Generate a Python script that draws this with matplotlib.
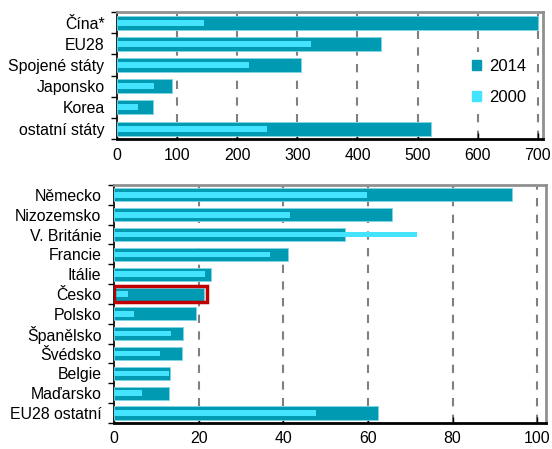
import matplotlib.pyplot as plt
import matplotlib.patches as mpatches
import numpy as np

plt.rcParams['font.family'] = ['Liberation Sans', 'DejaVu Sans']

# World regions (top panel)
regions = ["Čína*", "EU28", "Spojené státy", "Japonsko", "Korea", "ostatní státy"]
regions_2014 = [700, 439, 306, 91, 60, 523]
regions_2000 = [145, 323, 219, 62, 35, 249]

# EU countries (bottom panel)
countries = ["Německo", "Nizozemsko", "V. Británie", "Francie", "Itálie", "Česko",
             "Polsko", "Španělsko", "Švédsko", "Belgie", "Maďarsko", "EU28 ostatní"]
countries_2014 = [94.1, 65.6, 54.5, 41.0, 22.9, 21.2, 19.3, 16.2, 16.1, 13.2, 12.9, 62.5]
countries_2000 = [59.7, 41.7, 71.5, 36.8, 21.5, 3.2, 4.7, 13.4, 10.8, 13.0, 6.6, 47.8]

top_ticks = [0, 100, 200, 300, 400, 500, 600, 700]
bottom_ticks = [0, 20, 40, 60, 80, 100]

c2014 = '#009BB3'
c2000 = '#44E3FF'
font_size = 11.4

fig = plt.figure(figsize=(5.52, 4.49), dpi=100)
ax_top = fig.add_axes([0.212, 0.690, 0.772, 0.283])
ax_bot = fig.add_axes([0.2065, 0.058, 0.782, 0.530])


def style_axis(axis, labels, v2014, v2000, ticks, xmax):
    y = np.arange(len(labels))
    axis.barh(y, v2014, height=0.66, color=c2014, edgecolor='#7fd6e6', linewidth=0.6, zorder=3)
    axis.barh(y, v2000, height=0.28, color=c2000, edgecolor='none', zorder=4)
    axis.set_ylim(len(labels) - 0.5, -0.5)
    axis.set_xlim(0, xmax)
    axis.set_yticks(y)
    axis.set_yticklabels(labels, fontsize=font_size)
    axis.set_yticks(np.arange(len(labels) + 1) - 0.5, minor=True)
    axis.tick_params(axis='y', which='major', length=0, pad=9)
    axis.tick_params(axis='y', which='minor', length=4, width=1, direction='out')
    axis.set_xticks(ticks)
    axis.tick_params(axis='x', direction='in', length=4, width=1, labelsize=font_size, pad=6)
    for t in ticks[1:]:
        axis.axvline(t, color='#808080', linestyle=(0, (4, 4)), linewidth=1.5, zorder=1)
    axis.spines['left'].set_color('black')
    axis.spines['left'].set_linewidth(1.2)
    axis.spines['bottom'].set_color('black')
    axis.spines['bottom'].set_linewidth(2)
    axis.spines['top'].set_color('#909090')
    axis.spines['top'].set_linewidth(2)
    axis.spines['right'].set_color('#909090')
    axis.spines['right'].set_linewidth(2)


style_axis(ax_top, regions, regions_2014, regions_2000, top_ticks, 709)
style_axis(ax_bot, countries, countries_2014, countries_2000, bottom_ticks, 102)

# Highlight Česko
ci = countries.index("Česko")
ax_bot.add_patch(mpatches.Rectangle((0, ci - 0.39), countries_2014[ci] + 0.8, 0.78,
                                    fill=False, edgecolor='#C00000', linewidth=2.5, zorder=5))

handles = [mpatches.Patch(color=c2014, label='2014'), mpatches.Patch(color=c2000, label='2000')]
leg = ax_top.legend(handles=handles, loc='center left', bbox_to_anchor=(0.815, 0.45),
                    frameon=True, fontsize=12, handlelength=0.55, handleheight=0.55,
                    handletextpad=0.5, labelspacing=0.95, borderpad=0.45, borderaxespad=0)
leg.get_frame().set_facecolor('white')
leg.get_frame().set_edgecolor('none')
leg.get_frame().set_alpha(1)
leg.set_zorder(10)

fig.savefig("out.png", dpi=100)
